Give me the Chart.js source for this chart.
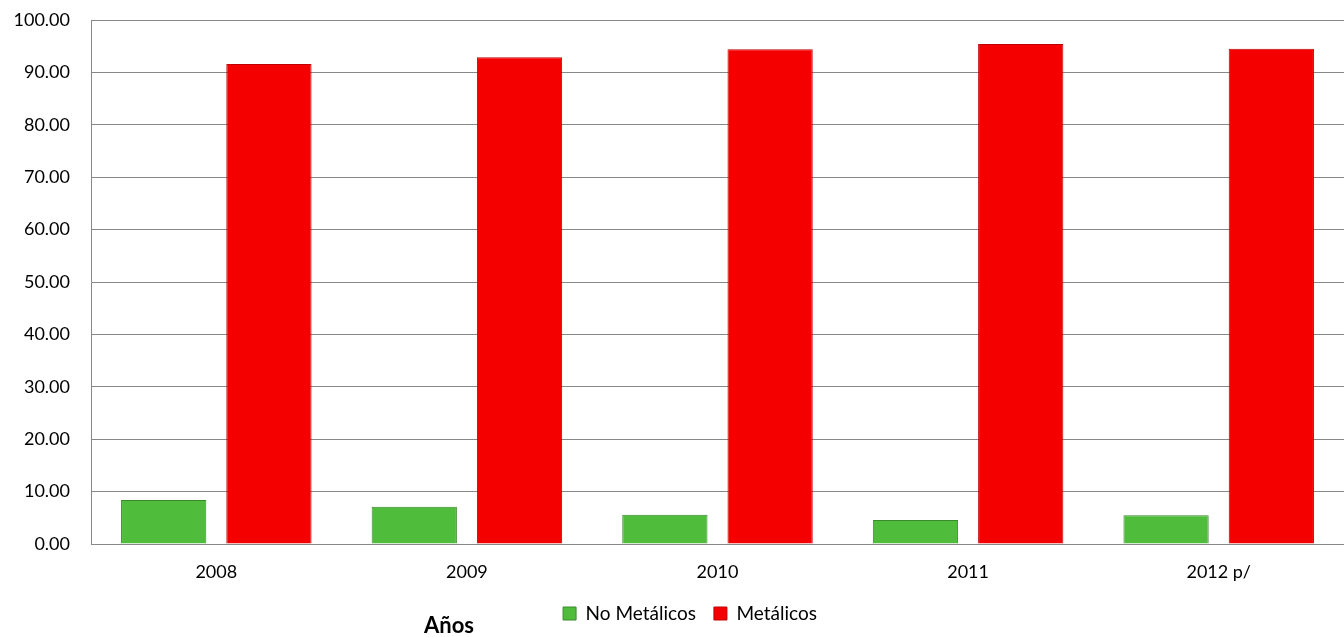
<!DOCTYPE html>
<html>
<head>
<meta charset="utf-8">
<script src="https://cdn.jsdelivr.net/npm/chart.js@4/dist/chart.umd.min.js"></script>
<style>
  html, body { margin: 0; padding: 0; background: #fff; }
  #wrap { width: 1344px; height: 637px; position: relative; }
</style>
</head>
<body>
<div id="wrap"><canvas id="c" width="1344" height="637"></canvas></div>
<script>
const categories = ['2008', '2009', '2010', '2011', '2012 p/'];
const noMetalicos = [8.4, 7.1, 5.6, 4.6, 5.5];
const metalicos = [91.6, 92.9, 94.4, 95.4, 94.5];
const seriesNames = ['No Metálicos', 'Metálicos'];
const axisTitle = 'Años';

const FONT = 'Lato, "Open Sans", sans-serif';

const extrasPlugin = {
  id: 'extras',
  afterLayout(chart) {
    if (chart.legend) {
      chart.legend.left += 18;
      chart.legend.right += 18;
    }
  },
  afterDraw(chart) {
    const ctx = chart.ctx;
    ctx.save();
    ctx.font = 'bold 22px ' + FONT;
    ctx.fillStyle = '#000';
    ctx.textAlign = 'center';
    ctx.textBaseline = 'alphabetic';
    ctx.fillText(axisTitle, 449, 633);
    ctx.restore();
  }
};

new Chart(document.getElementById('c'), {
  type: 'bar',
  data: {
    labels: categories,
    datasets: [
      {
        label: seriesNames[0],
        data: noMetalicos,
        backgroundColor: '#4fbd3b',
        borderColor: '#3a8a2c',
        borderWidth: 1
      },
      {
        label: seriesNames[1],
        data: metalicos,
        backgroundColor: '#f40000',
        borderColor: '#c00000',
        borderWidth: 1
      }
    ]
  },
  options: {
    responsive: false,
    animation: false,
    layout: { padding: { left: 0, right: 0, top: 0, bottom: 4 } },
    datasets: { bar: { categoryPercentage: 0.84, barPercentage: 0.81 } },
    scales: {
      x: {
        grid: { display: false },
        border: { color: '#888', width: 1 },
        ticks: { color: '#000', font: { family: FONT, size: 18 }, padding: 9, maxRotation: 0 },
        afterFit(scale) { scale.height = 42; }
      },
      y: {
        min: 0, max: 100,
        ticks: {
          stepSize: 10, color: '#000', padding: 21,
          font: { family: FONT, size: 18 },
          callback: v => Number(v).toFixed(2)
        },
        grid: { color: '#888', drawTicks: false },
        border: { color: '#888', width: 1 },
        afterFit(scale) { scale.width = 91; scale.paddingTop = 20; scale.paddingBottom = 11; }
      }
    },
    plugins: {
      legend: {
        position: 'bottom',
        labels: {
          color: '#000',
          font: { family: FONT, size: 19 },
          boxWidth: 13, boxHeight: 13, padding: 18
        }
      },
      tooltip: { enabled: false }
    }
  },
  plugins: [extrasPlugin]
});
</script>
</body>
</html>
